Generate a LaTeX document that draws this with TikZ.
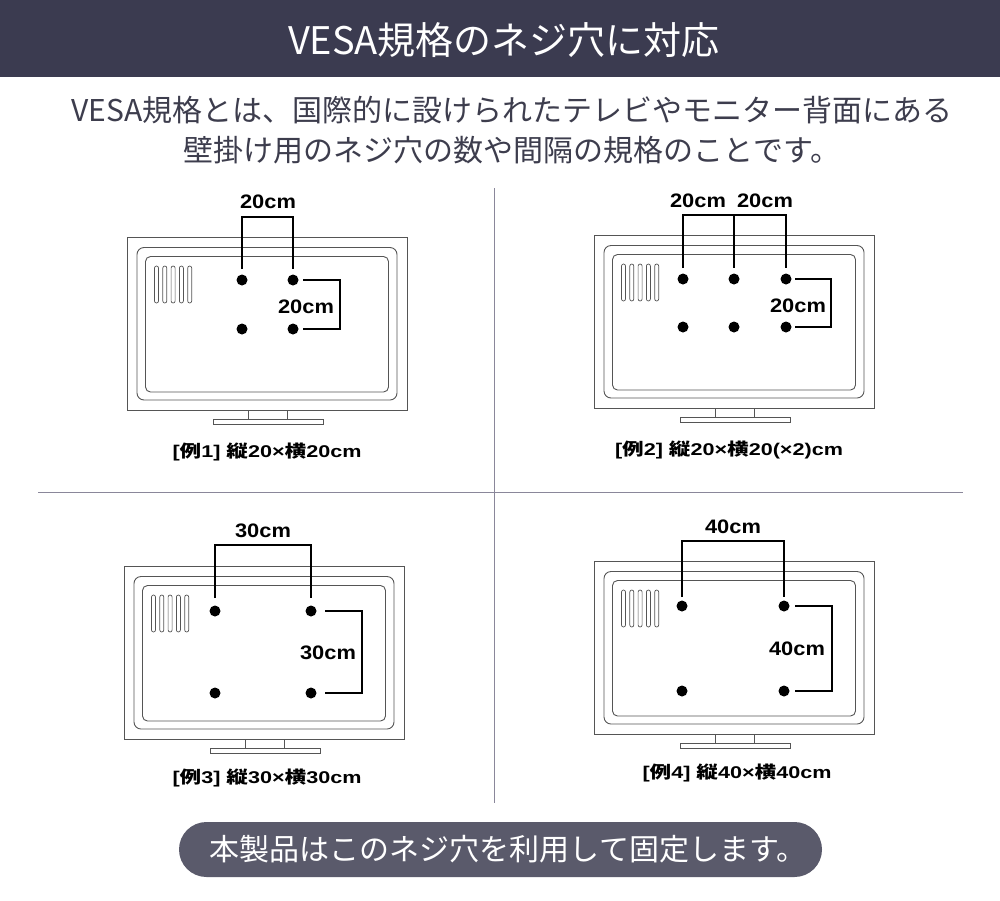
\documentclass[tikz,border=0pt]{standalone}
\usepackage{graphicx}
\usepackage{fontspec}
\setmainfont{Liberation Sans}
\newfontfamily\jp{Noto Sans CJK JP}
\usetikzlibrary{calc}
\definecolor{hdr}{HTML}{3B3B50}
\definecolor{pill}{HTML}{5A5A6B}
\definecolor{divc}{HTML}{8A879A}
\definecolor{tvc}{HTML}{555555}
\definecolor{subc}{HTML}{3D3D4D}
\newcommand\J[1]{{\jp\bfseries #1}}
\newcommand\dl[1]{\scalebox{1.12}[1]{\fontsize{19.5}{20}\selectfont\bfseries #1}}
\newcommand\cp[1]{\scalebox{1.27}[1]{\fontsize{17}{20}\selectfont\bfseries #1}}
\tikzset{
  tvline/.style={draw=tvc, line width=0.9pt},
  br/.style={draw=black, line width=1.5pt},
  hole/.style={circle, fill=black, inner sep=0pt, minimum size=11pt},
  lab/.style={inner sep=0pt, text=black},
  divl/.style={draw=divc, line width=1pt}
}
\newcommand\tvdraw[2]{%
  \draw[tvline] (#1,#2) rectangle ++(280,173);
  \draw[tvline,rounded corners=7pt] (#1+10,#2+10.5) rectangle (#1+270,#2+163);
  \draw[tvline,rounded corners=5pt] (#1+18.5,#2+19.5) rectangle (#1+261.5,#2+155);
  \draw[tvline] (#1+121,#2+173) rectangle (#1+160,#2+182);
  \draw[tvline] (#1+86,#2+182) rectangle (#1+196,#2+187);
  \foreach \i in {0,...,4}
    \draw[tvline,line width=0.7pt,rounded corners=2pt] (#1+27.5+\i*8.3,#2+29) rectangle ++(4,37);
}
\begin{document}
\begin{tikzpicture}[x=1pt,y=-1pt]
\useasboundingbox (0,0) rectangle (1000,900);
\fill[white] (0,0) rectangle (1000,900);
% header
\fill[hdr] (0,0) rectangle (1000,77);
\node[inner sep=0pt, text=white] (title) at (504,40) {\jp\fontsize{38}{44}\selectfont VESA規格のネジ穴に対応};
% subtitle
\node[inner sep=0pt, text=subc, align=center, font=\jp\fontsize{30}{40}\selectfont] (sub) at (512,130)
  {VESA規格とは、国際的に設けられたテレビやモニター背面にある\\壁掛け用のネジ穴の数や間隔の規格のことです。};
% dividers
\draw[divl] (494,188) -- (494,803);
\draw[divl] (38,492) -- (963,492);

% ---------- TV 1
\tvdraw{127}{237}
\node[hole] (a1) at (242,280) {};
\node[hole] (a2) at (293,280) {};
\node[hole] (a3) at (242,329) {};
\node[hole] (a4) at (293,329) {};
\draw[br] (242,269) -- (242,217) -- (293,217) -- (293,269);
\draw[br] (303,280) -- (340,280) -- (340,329) -- (303,329);
\node[lab] (l1a) at (268,202) {\dl{20cm}};
\node[lab] (l1b) at (306,307) {\dl{20cm}};
\node[lab] (c1) at (267,452) {\cp{[\J{例}1] \J{縦}20×\J{横}20cm}};

% ---------- TV 2
\tvdraw{594}{235}
\node[hole] (b1) at (683,279) {};
\node[hole] (b2) at (734,279) {};
\node[hole] (b3) at (786,279) {};
\node[hole] (b4) at (683,327) {};
\node[hole] (b5) at (734,327) {};
\node[hole] (b6) at (786,327) {};
\draw[br] (683,268) -- (683,215) -- (786,215) -- (786,268);
\draw[br] (734,215) -- (734,268);
\draw[br] (795,279) -- (831,279) -- (831,327) -- (795,327);
\node[lab] (l2a) at (698,201) {\dl{20cm}};
\node[lab] (l2b) at (765,201) {\dl{20cm}};
\node[lab] (l2c) at (798,306) {\dl{20cm}};
\node[lab] (c2) at (729,450) {\cp{[\J{例}2] \J{縦}20×\J{横}20(×2)cm}};

% ---------- TV 3
\tvdraw{124}{566}
\node[hole] (e1) at (215,611) {};
\node[hole] (e2) at (311,611) {};
\node[hole] (e3) at (215,693) {};
\node[hole] (e4) at (311,693) {};
\draw[br] (215,598) -- (215,545) -- (311,545) -- (311,598);
\draw[br] (325,611) -- (362,611) -- (362,693) -- (325,693);
\node[lab] (l3a) at (263,531) {\dl{30cm}};
\node[lab] (l3b) at (328,653) {\dl{30cm}};
\node[lab] (c3) at (267,778) {\cp{[\J{例}3] \J{縦}30×\J{横}30cm}};

% ---------- TV 4
\tvdraw{594}{561}
\node[hole] (f1) at (682,606) {};
\node[hole] (f2) at (784,606) {};
\node[hole] (f3) at (682,691) {};
\node[hole] (f4) at (784,691) {};
\draw[br] (682,597) -- (682,541) -- (784,541) -- (784,597);
\draw[br] (795,606) -- (832,606) -- (832,691) -- (795,691);
\node[lab] (l4a) at (733,527) {\dl{40cm}};
\node[lab] (l4b) at (797,649) {\dl{40cm}};
\node[lab] (c4) at (737,773) {\cp{[\J{例}4] \J{縦}40×\J{横}40cm}};

% bottom pill
\fill[pill, rounded corners=27.5pt] (179,822) rectangle (822,877);
\node[inner sep=0pt, text=white] (foot) at (508,849) {\jp\fontsize{30}{36}\selectfont 本製品はこのネジ穴を利用して固定します。};
\end{tikzpicture}
\end{document}
